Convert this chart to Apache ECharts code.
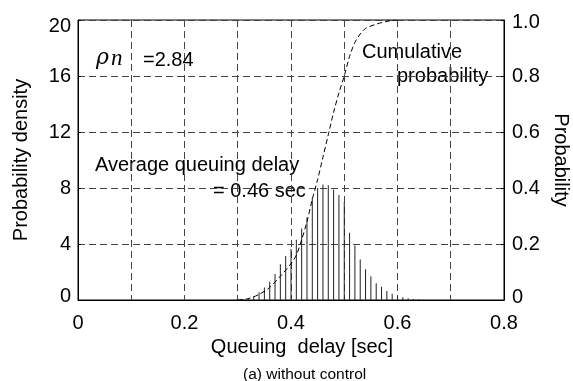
<!DOCTYPE html>
<html>
<head>
<meta charset="utf-8">
<script src="https://cdn.jsdelivr.net/npm/echarts@6/dist/echarts.min.js"></script>
<style>html,body{margin:0;padding:0;background:#fff}#c{width:573px;height:381px}</style>
</head>
<body>
<div id="c"></div>
<script>
// Histogram of queuing delay (probability density)
const delays = [0.30,0.31,0.32,0.33,0.34,0.35,0.36,0.37,0.38,0.39,0.40,0.41,0.42,0.43,0.44,0.45,0.46,0.47,0.48,0.49,0.50,0.51,0.52,0.53,0.54,0.55,0.56,0.57,0.58,0.59,0.60,0.61,0.62,0.63,0.64];
const density = [0.03,0.06,0.1,0.25,0.55,0.9,1.3,1.85,2.55,3.15,3.65,4.3,5.1,5.9,7.3,8.0,8.25,8.2,7.9,7.5,7.0,4.8,3.9,2.9,2.2,1.7,1.2,0.95,0.65,0.45,0.3,0.2,0.12,0.08,0.04];
// Cumulative probability curve
const cumDelay = [0.30,0.32,0.34,0.36,0.38,0.40,0.41,0.42,0.43,0.44,0.45,0.46,0.47,0.48,0.49,0.50,0.51,0.52,0.53,0.54,0.56,0.58,0.60];
const cumProb  = [0,0.005,0.02,0.045,0.085,0.13,0.16,0.215,0.28,0.36,0.43,0.51,0.59,0.67,0.74,0.80,0.87,0.92,0.95,0.97,0.985,0.995,1.0];
// Tick labels
const xTickLabels = ['0','0.2','0.4','0.6','0.8'];
const yLeftTicks = ['0','4','8','12','16','20'];
const yRightTicks = ['0','0.2','0.4','0.6','0.8','1.0'];

const FONT = '"Liberation Sans", Arial, Helvetica, sans-serif';
const FS = 20;
const chart = echarts.init(document.getElementById('c'), null, {renderer: 'canvas'});
const gridDash = {color: '#444', type: [7, 4], width: 1};
const edgeRich = {
  lo: {fontFamily: FONT, fontSize: FS, color: '#000', padding: [0, 0, 7, 0]},
  hi: {fontFamily: FONT, fontSize: FS, color: '#000', padding: [12, 0, 0, 0]},
  lo2: {fontFamily: FONT, fontSize: FS, color: '#000', padding: [0, 0, 5, 0]},
  hi2: {fontFamily: FONT, fontSize: FS, color: '#000', padding: [5, 0, 0, 0]}
};

chart.setOption({
  animation: false,
  backgroundColor: '#fff',
  title: {
    text: '(a) without control',
    left: 238, top: 362,
    textStyle: {fontFamily: FONT, fontSize: 15.5, fontWeight: 'normal', color: '#000'}
  },
  grid: {left: 78, right: 69, top: 20, bottom: 81, containLabel: false, outerBoundsMode: 'none',
    show: true, borderColor: '#000', borderWidth: 1, backgroundColor: 'transparent'},
  xAxis: {
    type: 'value', min: 0, max: 0.8, interval: 0.1,
    name: 'Queuing  delay [sec]', nameLocation: 'middle', nameGap: 34,
    nameTextStyle: {fontFamily: FONT, fontSize: FS, color: '#000', padding: [0, 0, 0, 22]},
    axisLine: {lineStyle: {color: '#000', width: 1}},
    axisTick: {show: false},
    axisLabel: {
      margin: 13, fontFamily: FONT, fontSize: FS, color: '#000',
      formatter: function (v) {
        const k = Math.round(v * 10);
        return k % 2 === 0 ? xTickLabels[k / 2] : '';
      }
    },
    splitLine: {show: true, lineStyle: gridDash}
  },
  yAxis: [{
    type: 'value', min: 0, max: 20, interval: 4, position: 'left',
    name: 'Probability density', nameLocation: 'middle', nameGap: 47, nameRotate: 90,
    nameTextStyle: {fontFamily: FONT, fontSize: FS, color: '#000'},
    axisLine: {show: true, lineStyle: {color: '#000', width: 1}},
    axisTick: {show: true, inside: true, length: 3, lineStyle: {color: '#000'}},
    axisLabel: {margin: 7, fontFamily: FONT, fontSize: FS, color: '#000', rich: edgeRich,
      formatter: function (v) {
        const k = Math.round(v / 4);
        const s = yLeftTicks[k];
        if (k === 0) return '{lo|' + s + '}';
        if (k === yLeftTicks.length - 1) return '{hi|' + s + '}';
        return s;
      }},
    splitLine: {show: true, lineStyle: gridDash}
  }, {
    type: 'value', min: 0, max: 1, interval: 0.2, position: 'right',
    name: 'Probability', nameLocation: 'middle', nameGap: 46, nameRotate: -90,
    nameTextStyle: {fontFamily: FONT, fontSize: FS, color: '#000'},
    axisLine: {show: true, lineStyle: {color: '#000', width: 1}},
    axisTick: {show: true, inside: true, length: 3, lineStyle: {color: '#000'}},
    axisLabel: {margin: 8, fontFamily: FONT, fontSize: FS, color: '#000', rich: edgeRich,
      formatter: function (v) {
        const k = Math.round(v * 5);
        const s = yRightTicks[k];
        if (k === 0) return '{lo2|' + s + '}';
        if (k === yRightTicks.length - 1) return '{hi2|' + s + '}';
        return s;
      }},
    splitLine: {show: false}
  }],
  series: [{
    type: 'bar', name: 'Probability density', yAxisIndex: 0,
    barWidth: 1,
    itemStyle: {color: '#222'},
    data: delays.map((d, i) => [d, density[i]])
  }, {
    type: 'line', name: 'Cumulative probability', yAxisIndex: 1,
    smooth: 0.3, showSymbol: false, symbol: 'none',
    lineStyle: {color: '#000', width: 1, type: [5, 3]},
    data: cumDelay.map((d, i) => [d, cumProb[i]]),
    z: 5
  }],
  graphic: [
    {type: 'text', left: 96, top: 47, style: {text: 'ρ', font: 'italic 22px "DejaVu Serif", serif', fill: '#000'}},
    {type: 'text', left: 111, top: 47, style: {text: 'n', font: 'italic 23px "Liberation Serif", serif', fill: '#000'}},
    {type: 'text', left: 143, top: 50, style: {text: '=2.84', font: FS + 'px ' + FONT, fill: '#000'}},
    {type: 'text', left: 95, top: 155, style: {text: 'Average queuing delay', font: FS + 'px ' + FONT, fill: '#000'}},
    {type: 'text', left: 213, top: 181, style: {text: '= 0.46 sec', font: FS + 'px ' + FONT, fill: '#000'}},
    {type: 'text', left: 362, top: 42, style: {text: 'Cumulative', font: FS + 'px ' + FONT, fill: '#000'}},
    {type: 'text', left: 397, top: 66, style: {text: 'probability', font: FS + 'px ' + FONT, fill: '#000'}}
  ]
});
</script>
</body>
</html>
